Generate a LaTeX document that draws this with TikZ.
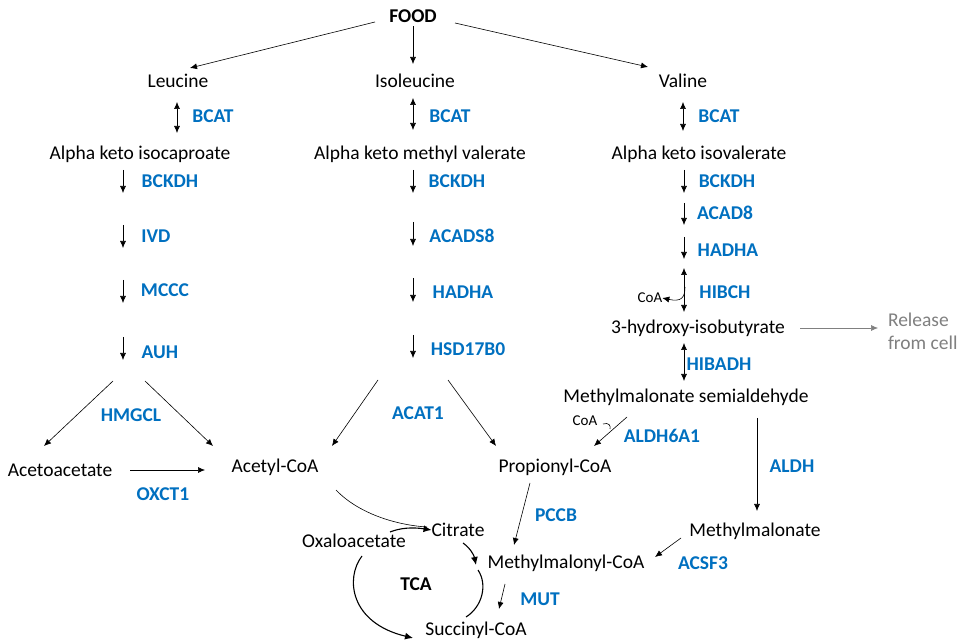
\documentclass[tikz,border=0pt]{standalone}
\usepackage{fontspec}
\setmainfont{Carlito}
\usetikzlibrary{arrows.meta}

\begin{document}
\begin{tikzpicture}[x=1pt,y=1pt,
  met/.style={text=drawColor,inner sep=0pt,outer sep=0pt,font=\fontsize{19.5}{23}\selectfont},
  enz/.style={text=enzColor,inner sep=0pt,outer sep=0pt,font=\fontsize{19.5}{23}\selectfont\bfseries},
  small/.style={text=drawColor,inner sep=0pt,outer sep=0pt,font=\fontsize{15}{18}\selectfont},
  rxn/.style={draw=drawColor,line width=0.6pt,-{Latex[length=7pt,width=6pt]}},
  rev/.style={draw=drawColor,line width=0.6pt,{Latex[length=7pt,width=6pt]}-{Latex[length=7pt,width=6pt]}},
  cyc/.style={draw=drawColor,line width=1.1pt,-{Latex[length=8pt,width=7pt]}}]
\definecolor{fillColor}{RGB}{255,255,255}
\definecolor{drawColor}{RGB}{0,0,0}
\definecolor{enzColor}{RGB}{0,112,192}
\definecolor{grayColor}{RGB}{128,128,128}
\path[use as bounding box,fill=fillColor] (0,0) rectangle (962,643);

% metabolites
\node[met,font=\fontsize{19.5}{23}\selectfont\bfseries] (food) at (413,627) {FOOD};
\node[met] (leu) at (178,562) {Leucine};
\node[met] (ile) at (415,562) {Isoleucine};
\node[met] (val) at (683,562) {Valine};
\node[met] (akic) at (140,489) {Alpha keto isocaproate};
\node[met] (akmv) at (420,489) {Alpha keto methyl valerate};
\node[met] (akiv) at (699,489) {Alpha keto isovalerate};
\node[met] (hib) at (698,315) {3-hydroxy-isobutyrate};
\node[met,text=grayColor,anchor=west,align=left] (release) at (888,312) {Release\\from cell};
\node[met] (mmsa) at (686,246) {Methylmalonate semialdehyde};
\node[met] (acac) at (60,173) {Acetoacetate};
\node[met] (acoa) at (275,176) {Acetyl-CoA};
\node[met] (pcoa) at (555,176) {Propionyl-CoA};
\node[met] (mma) at (755,112) {Methylmalonate};
\node[met] (cit) at (458,113) {Citrate};
\node[met] (oaa) at (354,102) {Oxaloacetate};
\node[met] (mmcoa) at (566,80) {Methylmalonyl-CoA};
\node[met] (scoa) at (476,13) {Succinyl-CoA};
\node[met,font=\fontsize{19.5}{23}\selectfont\bfseries] (tca) at (416,59) {TCA};
\node[small] (coaA) at (650,345) {CoA};
\node[small] (coaB) at (585,222) {CoA};

% FOOD to amino acids
\coordinate (f1) at (375,621); \coordinate (f2) at (190,575);
\coordinate (f3) at (455,620); \coordinate (f4) at (648,576);
\draw[rxn] (f1) -- (f2);
\draw[rxn] (food.south) ++(0,-4) coordinate (f5) -- (413,579) coordinate (f6);
\draw[rxn] (f3) -- (f4);

% transamination
\draw[rev] (177,541) coordinate (l1) -- (177,510) coordinate (l2);
\node[enz] (bcatL) at (213,527) {BCAT};
\draw[rev] (413,545) coordinate (i1) -- (413,513) coordinate (i2);
\node[enz] (bcatI) at (450,527) {BCAT};
\draw[rev] (683,541) coordinate (v1) -- (683,512) coordinate (v2);
\node[enz] (bcatV) at (719,527) {BCAT};

% leucine branch
\coordinate (l3) at (123,473); \coordinate (l4) at (123,450);
\coordinate (l5) at (123,418); \coordinate (l6) at (123,395);
\coordinate (l7) at (123,363); \coordinate (l8) at (123,340);
\coordinate (l9) at (123,306); \coordinate (l10) at (123,283);
\draw[rxn] (l3) -- (l4);
\draw[rxn] (l5) -- (l6);
\draw[rxn] (l7) -- (l8);
\draw[rxn] (l9) -- (l10);
\node[enz] (bckdhL) at (170,462) {BCKDH};
\node[enz] (ivd) at (156,407) {IVD};
\node[enz] (mccc) at (165,353) {MCCC};
\node[enz] (auh) at (160,291) {AUH};
\coordinate (l11) at (113,262);
\coordinate (l12) at (145,262);
\draw[rxn] (l11) -- (44,197) coordinate (l13);
\draw[rxn] (l12) -- (213,197) coordinate (l14);
\node[enz] (hmgcl) at (131,228) {HMGCL};
\draw[rxn] (130,173) coordinate (l15) -- (205,173) coordinate (l16);
\node[enz] (oxct) at (163,149) {OXCT1};

% isoleucine branch
\coordinate (i3) at (413,473); \coordinate (i4) at (413,450);
\coordinate (i5) at (413,421); \coordinate (i6) at (413,397);
\coordinate (i7) at (413,365); \coordinate (i8) at (413,341);
\coordinate (i9) at (413,308); \coordinate (i10) at (413,285);
\draw[rxn] (i3) -- (i4);
\draw[rxn] (i5) -- (i6);
\draw[rxn] (i7) -- (i8);
\draw[rxn] (i9) -- (i10);
\node[enz] (bckdhI) at (457,462) {BCKDH};
\node[enz] (acads) at (462,407) {ACADS8};
\node[enz] (hadhaI) at (463,351) {HADHA};
\node[enz] (hsd) at (468,294) {HSD17B0};
\coordinate (i11) at (378,263);
\coordinate (i12) at (448,263);
\draw[rxn] (i11) -- (332,197) coordinate (i13);
\draw[rxn] (i12) -- (496,197) coordinate (i14);
\node[enz] (acat) at (418,230) {ACAT1};

% valine branch
\coordinate (v3) at (684,473); \coordinate (v4) at (684,450);
\coordinate (v5) at (684,440); \coordinate (v6) at (684,418);
\coordinate (v7) at (684,406); \coordinate (v8) at (684,384);
\draw[rxn] (v3) -- (v4);
\draw[rxn] (v5) -- (v6);
\draw[rxn] (v7) -- (v8);
\node[enz] (bckdhV) at (727,462) {BCKDH};
\node[enz] (acad) at (725,430) {ACAD8};
\node[enz] (hadhaV) at (728,393) {HADHA};
\draw[rev] (684,375) coordinate (v9) -- (684,331) coordinate (v10);
\draw[rxn] (685,356) .. controls (685,345) and (681,341) .. (coaA.east);
\node[enz] (hibch) at (725,351) {HIBCH};
\draw[rxn,draw=grayColor] (800,315) coordinate (v11) -- (878,315) coordinate (v12);
\draw[rev] (684,300) coordinate (v13) -- (684,262) coordinate (v14);
\node[enz] (hibadh) at (719,279) {HIBADH};
\draw[rxn] (627,226) coordinate (v15) -- (594,197) coordinate (v16);
\draw[draw=drawColor,line width=0.6pt] (603,219) .. controls (609,221) and (611,217) .. (610,214);
\node[enz] (aldh6) at (662,207) {ALDH6A1};
\draw[rxn] (757,225) coordinate (v17) -- (757,132) coordinate (v18);
\node[enz] (aldh) at (792,177) {ALDH};
\draw[rxn] (681,105) coordinate (v19) -- (655,86) coordinate (v20);
\node[enz] (acsf) at (703,80) {ACSF3};
\draw[rxn] (530,160) coordinate (p1) -- (514,98) coordinate (p2);
\node[enz] (pccb) at (556,128) {PCCB};
\draw[rxn] (505,59) coordinate (m1) -- (499,34) coordinate (m2);
\node[enz] (mut) at (540,44) {MUT};

% TCA cycle
\draw[draw=drawColor,line width=0.6pt] (336,153) .. controls (358,130) and (395,118) .. (427,116);
\draw[cyc] (390,111) .. controls (400,115) and (412,116) .. (cit.west);
\draw[cyc] (463,100) .. controls (470,95) and (474,88) .. (476,78);
\draw[draw=drawColor,line width=1.1pt] (478,73) .. controls (488,58) and (482,36) .. (466,26);
\draw[cyc] (362,87) .. controls (345,65) and (350,20) .. (413,5);
\end{tikzpicture}
\end{document}
